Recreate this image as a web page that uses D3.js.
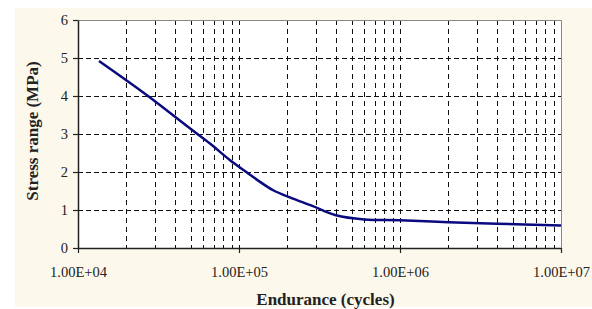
<!DOCTYPE html>
<html><head><meta charset="utf-8">
<script src="https://cdn.jsdelivr.net/npm/d3@7"></script>
<style>html,body{margin:0;padding:0;background:#fff;}svg{display:block;}</style>
</head><body>
<svg id="c" width="592" height="309"></svg>
<script>
const cycles = [1.35e4, 2.72e4, 4.95e4, 6.6e4, 8.8e4, 1.11e5, 1.35e5, 1.63e5, 2.07e5, 2.88e5, 4e5, 6e5, 1e6, 2e6, 4e6, 1e7];
const stress = [4.92, 4.0, 3.15, 2.75, 2.31, 2.0, 1.74, 1.52, 1.33, 1.10, 0.86, 0.75, 0.73, 0.68, 0.64, 0.59];
const xTicks = [1e4, 1e5, 1e6, 1e7];
const xTickLabels = ["1.00E+04", "1.00E+05", "1.00E+06", "1.00E+07"];
const yTicks = [0, 1, 2, 3, 4, 5, 6];
const xTitle = "Endurance (cycles)";
const yTitle = "Stress range (MPa)";

const svg = d3.select("#c");
const L = 78, R = 561, T = 20, B = 248;
const x = d3.scaleLog().domain([1e4, 1e7]).range([L, R]);
const y = d3.scaleLinear().domain([0, 6]).range([B, T]);

svg.append("rect").attr("x", 15).attr("y", 8).attr("width", 577).attr("height", 299).attr("fill", "#fdf8ec");
svg.append("rect").attr("x", L).attr("y", T).attr("width", R - L).attr("height", B - T).attr("fill", "#fff");

// vertical minor grid
const minor = [];
for (let e = 4; e < 7; e++) for (let m = 1; m <= 9; m++) { const v = m * Math.pow(10, e); if (v > 1e4 && v < 1e7) minor.push(v); }
svg.append("g").selectAll("line").data(minor).join("line")
  .attr("x1", d => Math.round(x(d)) + 0.5).attr("x2", d => Math.round(x(d)) + 0.5)
  .attr("y1", T).attr("y2", B)
  .attr("stroke", "#111").attr("stroke-width", 1).attr("stroke-dasharray", "5,4");
// horizontal grid
svg.append("g").selectAll("line").data(yTicks.filter(d => d > 0 && d < 6)).join("line")
  .attr("x1", L).attr("x2", R)
  .attr("y1", d => Math.round(y(d)) + 0.5).attr("y2", d => Math.round(y(d)) + 0.5)
  .attr("stroke", "#111").attr("stroke-width", 1).attr("stroke-dasharray", "5,3");

// border top/right
svg.append("path").attr("d", `M${L},${T + 0.5}H${R + 0.5}V${B}`).attr("fill", "none").attr("stroke", "#888").attr("stroke-width", 1);

// axes
const font = "'Liberation Serif','Times New Roman',serif";
const xa = svg.append("g").attr("transform", `translate(0,${B})`)
  .call(d3.axisBottom(x).tickValues(xTicks).tickFormat((d, i) => xTickLabels[i]).tickSizeInner(5).tickSizeOuter(0).tickPadding(14));
const ya = svg.append("g").attr("transform", `translate(${L},0)`)
  .call(d3.axisLeft(y).tickValues(yTicks).tickFormat(d3.format("d")).tickSizeInner(5).tickSizeOuter(0).tickPadding(5));
[xa, ya].forEach(a => {
  a.select(".domain").attr("stroke", "#222").attr("stroke-width", 1.5);
  a.selectAll(".tick line").attr("stroke", "#222").attr("stroke-width", 1.2);
  a.selectAll("text").attr("font-family", font).attr("font-size", 14.5).attr("fill", "#222");
});

// line
const line = d3.line().x(d => x(d[0])).y(d => y(d[1])).curve(d3.curveCatmullRom.alpha(0.5));
svg.append("path").datum(cycles.map((c, i) => [c, stress[i]]))
  .attr("d", line).attr("fill", "none").attr("stroke", "#0a0a80").attr("stroke-width", 2.5);

// titles
svg.append("text").attr("x", (L + R) / 2 + 6).attr("y", 305).attr("text-anchor", "middle")
  .attr("font-family", font).attr("font-weight", "bold").attr("font-size", 17).attr("fill", "#222").text(xTitle);
svg.append("text").attr("transform", `translate(38,${(T + B) / 2 - 3}) rotate(-90)`).attr("text-anchor", "middle")
  .attr("font-family", font).attr("font-weight", "bold").attr("font-size", 17).attr("fill", "#222").text(yTitle);
</script>
</body></html>
